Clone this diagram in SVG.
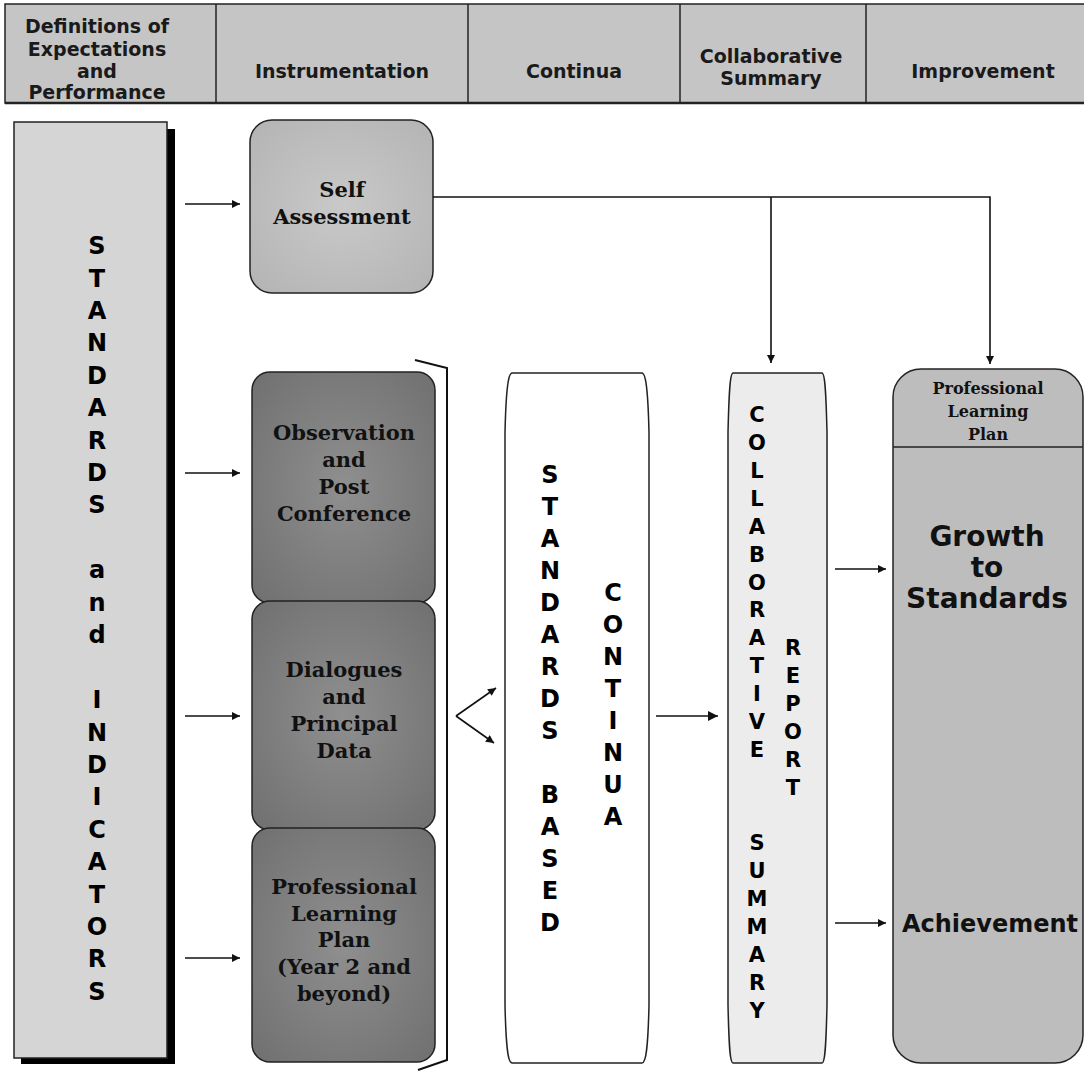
<svg xmlns="http://www.w3.org/2000/svg" width="1084" height="1071" viewBox="0 0 1084 1071">
<defs>
<style>
.hdr{font-family:"DejaVu Sans","Verdana",sans-serif;font-weight:bold;font-size:19px;fill:#1a1a1a;text-anchor:middle}
.ser{font-family:"DejaVu Serif","Liberation Serif",serif;font-weight:bold;font-size:21px;fill:#111;text-anchor:middle}
.sers{font-family:"DejaVu Serif","Liberation Serif",serif;font-weight:bold;font-size:16px;fill:#111;text-anchor:middle}
.vt{font-family:"DejaVu Sans","Verdana",sans-serif;font-weight:bold;font-size:24px;fill:#000;text-anchor:middle}
.vs{font-family:"DejaVu Sans","Verdana",sans-serif;font-weight:bold;font-size:21px;fill:#000;text-anchor:middle}
.big{font-family:"DejaVu Sans","Verdana",sans-serif;font-weight:bold;font-size:28px;fill:#111;text-anchor:middle}
.line{fill:none;stroke:#111;stroke-width:1.6}
.edge{stroke:#222;stroke-width:1.5}
</style>
<marker id="ah" viewBox="0 0 10 10" refX="10" refY="5" markerWidth="9" markerHeight="8" markerUnits="userSpaceOnUse" orient="auto">
<path d="M0,0 L10,5 L0,10 z" fill="#111"/>
</marker>
<marker id="ahb" viewBox="0 0 10 10" refX="10" refY="5" markerWidth="11" markerHeight="10" markerUnits="userSpaceOnUse" orient="auto">
<path d="M0,0 L10,5 L0,10 z" fill="#111"/>
</marker>
<radialGradient id="dark" cx="50%" cy="50%" r="65%">
<stop offset="0" stop-color="#8f8f8f"/>
<stop offset="1" stop-color="#727272"/>
</radialGradient>
<radialGradient id="mid" cx="50%" cy="50%" r="65%">
<stop offset="0" stop-color="#c9c9c9"/>
<stop offset="1" stop-color="#b5b5b5"/>
</radialGradient>
</defs>

<g id="header">
<rect x="5" y="4" width="1084" height="99" fill="#c5c5c5" stroke="#222" stroke-width="1.5"/>
<line x1="5" y1="103" x2="1084" y2="103" stroke="#222" stroke-width="2.5"/>
<line x1="216" y1="4" x2="216" y2="103" class="edge"/>
<line x1="468" y1="4" x2="468" y2="103" class="edge"/>
<line x1="680" y1="4" x2="680" y2="103" class="edge"/>
<line x1="866" y1="4" x2="866" y2="103" class="edge"/>
<text class="hdr" x="97" y="33">Definitions of</text>
<text class="hdr" x="97" y="56">Expectations</text>
<text class="hdr" x="97" y="78">and</text>
<text class="hdr" x="97" y="99">Performance</text>
<text class="hdr" x="342" y="78">Instrumentation</text>
<text class="hdr" x="574" y="78">Continua</text>
<text class="hdr" x="771" y="63">Collaborative</text>
<text class="hdr" x="771" y="85">Summary</text>
<text class="hdr" x="983" y="78">Improvement</text>
</g>

<g id="standards-indicators">
<rect x="21" y="129" width="154" height="935" fill="#000"/>
<rect x="14" y="122" width="153" height="936" fill="#d5d5d5" stroke="#222" stroke-width="1.5"/>
<text class="vt" x="97">
<tspan x="97" y="254">S</tspan><tspan x="97" y="287">T</tspan><tspan x="97" y="319">A</tspan><tspan x="97" y="351">N</tspan><tspan x="97" y="384">D</tspan><tspan x="97" y="416">A</tspan><tspan x="97" y="449">R</tspan><tspan x="97" y="481">D</tspan><tspan x="97" y="513">S</tspan><tspan x="97" y="578">a</tspan><tspan x="97" y="611">n</tspan><tspan x="97" y="643">d</tspan><tspan x="97" y="708">I</tspan><tspan x="97" y="741">N</tspan><tspan x="97" y="773">D</tspan><tspan x="97" y="805">I</tspan><tspan x="97" y="838">C</tspan><tspan x="97" y="870">A</tspan><tspan x="97" y="903">T</tspan><tspan x="97" y="935">O</tspan><tspan x="97" y="967">R</tspan><tspan x="97" y="1000">S</tspan>
</text>
</g>

<g id="self-assessment">
<rect x="250" y="120" width="183" height="173" rx="22" fill="url(#mid)" stroke="#222" stroke-width="1.5"/>
<text class="ser" x="342" y="197">Self</text>
<text class="ser" x="342" y="224">Assessment</text>
</g>

<g id="observation">
<rect x="252" y="372" width="183" height="231" rx="18" fill="url(#dark)" stroke="#222" stroke-width="1.5"/>
<text class="ser" x="344" y="440">Observation</text>
<text class="ser" x="344" y="467">and</text>
<text class="ser" x="344" y="494">Post</text>
<text class="ser" x="344" y="521">Conference</text>
</g>

<g id="dialogues">
<rect x="252" y="601" width="183" height="229" rx="18" fill="url(#dark)" stroke="#222" stroke-width="1.5"/>
<text class="ser" x="344" y="677">Dialogues</text>
<text class="ser" x="344" y="704">and</text>
<text class="ser" x="344" y="731">Principal</text>
<text class="ser" x="344" y="758">Data</text>
</g>

<g id="plp-instrument">
<rect x="252" y="828" width="183" height="234" rx="18" fill="url(#dark)" stroke="#222" stroke-width="1.5"/>
<text class="ser" x="344" y="894">Professional</text>
<text class="ser" x="344" y="921">Learning</text>
<text class="ser" x="344" y="947">Plan</text>
<text class="ser" x="344" y="974">(Year 2 and</text>
<text class="ser" x="344" y="1001">beyond)</text>
</g>

<g id="bracket">
<polyline points="415,360 447,368 447,1060 418,1070" fill="none" stroke="#111" stroke-width="2"/>
</g>

<g id="standards-based-continua">
<path d="M512,373 H642 C646,373 648,392 649,432 V1005 C648,1048 646,1063 642,1063 H512 C508,1063 506,1048 505,1005 V432 C506,392 508,373 512,373 Z" fill="#fff" stroke="#222" stroke-width="1.5"/>
<text class="vt">
<tspan x="550" y="483">S</tspan><tspan x="550" y="515">T</tspan><tspan x="550" y="547">A</tspan><tspan x="550" y="579">N</tspan><tspan x="550" y="611">D</tspan><tspan x="550" y="643">A</tspan><tspan x="550" y="675">R</tspan><tspan x="550" y="707">D</tspan><tspan x="550" y="739">S</tspan><tspan x="550" y="803">B</tspan><tspan x="550" y="835">A</tspan><tspan x="550" y="867">S</tspan><tspan x="550" y="899">E</tspan><tspan x="550" y="931">D</tspan>
</text>
<text class="vt">
<tspan x="613" y="601">C</tspan><tspan x="613" y="633">O</tspan><tspan x="613" y="665">N</tspan><tspan x="613" y="697">T</tspan><tspan x="613" y="729">I</tspan><tspan x="613" y="761">N</tspan><tspan x="613" y="793">U</tspan><tspan x="613" y="825">A</tspan>
</text>
</g>

<g id="collaborative-summary">
<path d="M733,373 H822 C825,373 826,392 827,432 V1005 C826,1048 825,1063 822,1063 H733 C730,1063 729,1048 728,1005 V432 C729,392 730,373 733,373 Z" fill="#ececec" stroke="#222" stroke-width="1.5"/>
<text class="vs">
<tspan x="757" y="422">C</tspan><tspan x="757" y="450">O</tspan><tspan x="757" y="478">L</tspan><tspan x="757" y="506">L</tspan><tspan x="757" y="534">A</tspan><tspan x="757" y="562">B</tspan><tspan x="757" y="590">O</tspan><tspan x="757" y="617">R</tspan><tspan x="757" y="645">A</tspan><tspan x="757" y="673">T</tspan><tspan x="757" y="701">I</tspan><tspan x="757" y="729">V</tspan><tspan x="757" y="757">E</tspan><tspan x="757" y="850">S</tspan><tspan x="757" y="878">U</tspan><tspan x="757" y="906">M</tspan><tspan x="757" y="934">M</tspan><tspan x="757" y="962">A</tspan><tspan x="757" y="990">R</tspan><tspan x="757" y="1018">Y</tspan>
</text>
<text class="vs">
<tspan x="793" y="655">R</tspan><tspan x="793" y="683">E</tspan><tspan x="793" y="711">P</tspan><tspan x="793" y="739">O</tspan><tspan x="793" y="767">R</tspan><tspan x="793" y="795">T</tspan>
</text>
</g>

<g id="professional-learning-plan">
<rect x="893" y="369" width="190" height="694" rx="28" fill="#bdbdbd" stroke="#222" stroke-width="1.5"/>
<line x1="893" y1="447" x2="1083" y2="447" stroke="#222" stroke-width="1.5"/>
<text class="sers" x="988" y="394">Professional</text>
<text class="sers" x="988" y="417">Learning</text>
<text class="sers" x="988" y="440">Plan</text>
<text class="big" x="987" y="546">Growth</text>
<text class="big" x="987" y="577">to</text>
<text class="big" x="987" y="608">Standards</text>
<text class="big" x="990" y="932" style="font-size:25px" textLength="176" lengthAdjust="spacingAndGlyphs">Achievement</text>
</g>

<g id="connectors">
<line class="line" x1="185" y1="204" x2="240" y2="204" marker-end="url(#ah)"/>
<line class="line" x1="185" y1="473" x2="240" y2="473" marker-end="url(#ah)"/>
<line class="line" x1="185" y1="716" x2="240" y2="716" marker-end="url(#ah)"/>
<line class="line" x1="185" y1="958" x2="240" y2="958" marker-end="url(#ah)"/>
<polyline class="line" points="433,197 990,197 990,364" marker-end="url(#ah)"/>
<line class="line" x1="771" y1="197" x2="771" y2="363" marker-end="url(#ah)"/>
<line class="line" x1="456" y1="716" x2="496" y2="688" stroke-width="2" marker-end="url(#ah)"/>
<line class="line" x1="456" y1="716" x2="494" y2="743" stroke-width="2" marker-end="url(#ah)"/>
<line class="line" x1="656" y1="716" x2="718" y2="716" stroke-width="2.2" marker-end="url(#ahb)"/>
<line class="line" x1="835" y1="569" x2="886" y2="569" marker-end="url(#ah)"/>
<line class="line" x1="835" y1="923" x2="886" y2="923" marker-end="url(#ah)"/>
</g>
</svg>
